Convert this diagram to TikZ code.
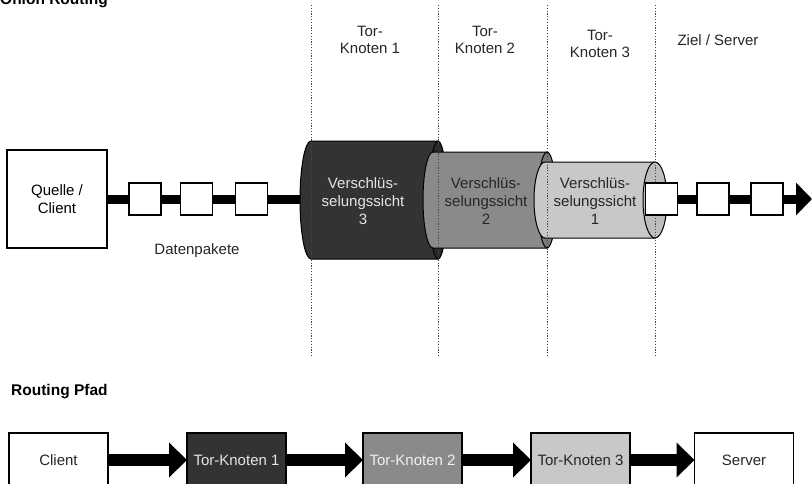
\documentclass[tikz,border=0pt]{standalone}
\usepackage{fontspec}
\setmainfont{Liberation Sans}
\usetikzlibrary{arrows.meta}
\definecolor{cdark}{HTML}{333333}
\definecolor{cdarkrim}{HTML}{2A2A2A}
\definecolor{cmid}{HTML}{8A8A8A}
\definecolor{cmidrim}{HTML}{7A7A7A}
\definecolor{clight}{HTML}{C8C8C8}
\definecolor{clightrim}{HTML}{BDBDBD}
\definecolor{dotgray}{HTML}{444444}
\tikzset{
  txt/.style={font=\fontsize{15}{18}\selectfont, align=center, inner sep=0pt},
  toplabel/.style={font=\fontsize{15}{16.5}\selectfont, align=center, inner sep=0pt, text=black!85},
  packet/.style={draw=black, line width=1.3pt, fill=white, minimum width=32pt, minimum height=32pt, inner sep=0pt, outer sep=0pt},
  pathbox/.style={draw=black, line width=1.3pt, minimum width=99pt, minimum height=54pt, inner sep=0pt, outer sep=0pt, font=\fontsize{15}{18}\selectfont},
  divider/.style={dotgray, line width=1pt, dash pattern=on 1.2pt off 1.6pt},
  datalink/.style={line width=9pt, -{Triangle[length=16pt,width=32pt]}},
  routelink/.style={line width=12pt, -{Triangle[length=18pt,width=34pt]}},
  cylrim/.style={draw=black, line width=1pt},
  heading/.style={font=\fontsize{15.5}{18}\selectfont\bfseries, inner sep=0pt}
}
\begin{document}
\begin{tikzpicture}[x=1pt,y=-1pt]
\useasboundingbox (0,0) rectangle (812,483);
\clip (0,0) rectangle (812,483);

% title (cut off at the top, as in the reference)
\node[heading, anchor=base west] (title) at (0,4.5) {Onion Routing};

% source box
\node[draw=black, line width=1.3pt, minimum width=100pt, minimum height=98pt, inner sep=0pt, outer sep=0pt, txt] (quelle) at (57,199) {Quelle /\\Client};
\coordinate (tip) at (812,199);

% data line behind everything
\draw[datalink] (quelle.east) -- (tip);

% cylinder 3 (dark)
\filldraw[cdark, cylrim] (438,141) -- (311,141) arc[start angle=90, end angle=270, x radius=11pt, y radius=59pt] -- (438,259) -- cycle;
\filldraw[cdarkrim, cylrim] (438,200) ellipse [x radius=9pt, y radius=59pt];
% cylinder 2 (mid)
\filldraw[cmid, cylrim] (547,152) -- (433,152) arc[start angle=90, end angle=270, x radius=10pt, y radius=48pt] -- (547,248) -- cycle;
\filldraw[cmidrim, cylrim] (547,200) ellipse [x radius=9pt, y radius=48pt];
% cylinder 1 (light)
\filldraw[clight, cylrim] (655,162) -- (545,162) arc[start angle=90, end angle=270, x radius=11pt, y radius=38pt] -- (655,238) -- cycle;
\filldraw[clightrim, cylrim] (655,200) ellipse [x radius=12pt, y radius=38pt];

% cylinder labels
\node[txt, text=black!10] (c3) at (363,201) {Verschlüs-\\selungssicht\\3};
\node[txt, text=black!85] (c2) at (486,201) {Verschlüs-\\selungssicht\\2};
\node[txt, text=black!85] (c1) at (595,201) {Verschlüs-\\selungssicht\\1};

% dividers
\foreach \xx/\nm in {311/d1, 438/d2, 547/d3, 655/d4}{
  \coordinate (\nm t) at (\xx,5);
  \coordinate (\nm b) at (\xx,356);
  \draw[divider] (\nm t) -- (\nm b);
}

% packets
\node[packet] (p1) at (145,199) {};
\node[packet] (p2) at (196.5,199) {};
\node[packet] (p3) at (251.5,199) {};
\node[packet] (p4) at (661.5,199) {};
\node[packet] (p5) at (713,199) {};
\node[packet] (p6) at (767,199) {};

\node[txt, text=black!85] (daten) at (197,251) {Datenpakete};

% top labels
\node[toplabel] (k1) at (370,40) {Tor-\\Knoten 1};
\node[toplabel] (k2) at (485,40) {Tor-\\Knoten 2};
\node[toplabel] (k3) at (600,44) {Tor-\\Knoten 3};
\node[toplabel] (ziel) at (718,40) {Ziel / Server};

% routing path
\node[heading, anchor=west] (rp) at (11,392) {Routing Pfad};
\node[pathbox, fill=white, text=black!85] (client) at (58.5,460) {Client};
\node[pathbox, fill=cdark, text=white!90!black] (t1) at (236.5,460) {Tor-Knoten 1};
\node[pathbox, fill=cmid, text=white!95!black] (t2) at (412.5,460) {Tor-Knoten 2};
\node[pathbox, fill=clight, text=black!85] (t3) at (580.5,460) {Tor-Knoten 3};
\node[pathbox, fill=white, text=black!85] (server) at (744,460) {Server};
\draw[routelink] (client.east) -- (t1.west);
\draw[routelink] (t1.east) -- (t2.west);
\draw[routelink] (t2.east) -- (t3.west);
\draw[routelink] (t3.east) -- (server.west);
\end{tikzpicture}
\end{document}
